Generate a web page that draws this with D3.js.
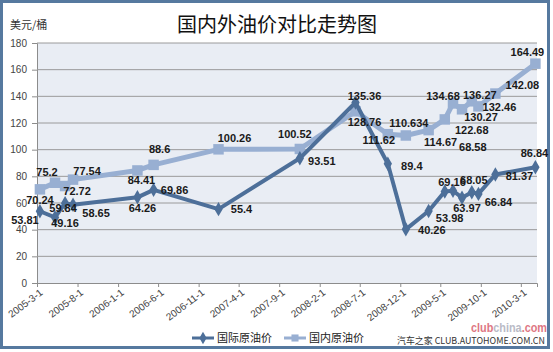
<!DOCTYPE html>
<html>
<head>
<meta charset="utf-8">
<script src="https://cdn.jsdelivr.net/npm/d3@7"></script>
<style>
body { margin: 0; background: #fff; }
text { font-family: "Liberation Sans", Arial, sans-serif; }
.cjk { font-family: "Noto Sans CJK SC", sans-serif; }
</style>
</head>
<body>
<script>
// data
var dates = ["2005-3-12", "2005-5-8", "2005-6-15", "2005-7-15", "2006-3-15", "2006-5-15",
    "2007-1-15", "2007-11-18", "2008-6-15", "2008-10-15", "2008-12-22", "2009-3-18",
    "2009-5-18", "2009-6-18", "2009-7-22", "2009-8-28", "2009-9-22", "2009-11-25", "2010-4-25"];
var intlPrice = [53.81, 49.16, 59.84, 58.65, 64.26, 69.86, 55.4, 93.51, 135.36, 89.4, 40.26,
    53.98, 68.58, 69.16, 63.97, 68.05, 66.84, 81.37, 86.84];
var domPrice = [70.24, 75.2, 72.72, 77.54, 84.41, 88.6, 100.26, 100.52, 128.76, 111.62, 110.634,
    114.67, 122.68, 134.68, 130.27, 136.27, 132.46, 142.08, 164.49];
var tickLabels = ["2005-3-1", "2005-8-1", "2006-1-1", "2006-6-1", "2006-11-1", "2007-4-1",
    "2007-9-1", "2008-2-1", "2008-7-1", "2008-12-1", "2009-5-1", "2009-10-1", "2010-3-1"];
var yTicks = [0, 20, 40, 60, 80, 100, 120, 140, 160, 180];
var seriesNames = ["国际原油价", "国内原油价"];

// label nudges (label centre relative to its point), as moved by hand in the original
var intlOff = [[-15, 9], [10, 6], [-2, 5], [23, 8], [5, 11], [21, 0], [23, 0], [22, 3], [9, -7],
    [24, 2], [26, 1], [21, 7], [28, -45], [-1, -9], [5, 10], [2, -12], [20, 8], [24, 1], [-1, -14]];
var domOff = [[0, 11], [-8, -11], [12, 5], [14, -9], [4, 10], [6, -16], [16, -11], [-5, -15],
    [9, 11], [-9, 6], [3, -12], [12, 12], [27, 11], [-10, -7], [19, 8], [8, -6], [21, 1], [27, -9], [-8, -12]];

var W = 553, H = 352;
var plot = {left: 37, right: 537, top: 43, bottom: 283};
var darkBlue = "#4d6f99", lightBlue = "#98afd2";

var parse = d3.timeParse("%Y-%m-%d");

var svg = d3.select("body").append("svg")
    .attr("width", W)
    .attr("height", H);

svg.append("rect")
    .attr("x", 1.5).attr("y", 1.5)
    .attr("width", 547).attr("height", 346)
    .attr("fill", "#fff")
    .attr("stroke", "#56799f")
    .attr("stroke-width", 3);

var x = d3.scaleTime()
    .domain([parse("2005-3-1"), parse("2010-5-1")])
    .range([plot.left, plot.right]);
var y = d3.scaleLinear()
    .domain([0, 180])
    .range([plot.bottom, plot.top]);

// plot area
svg.append("rect")
    .attr("x", plot.left).attr("y", plot.top)
    .attr("width", plot.right - plot.left)
    .attr("height", plot.bottom - plot.top)
    .attr("fill", "#e9edf4");

// y axis with gridlines
var yAxis = svg.append("g")
    .attr("transform", "translate(" + plot.left + ",0)")
    .call(d3.axisLeft(y).tickValues(yTicks).tickSize(5).tickPadding(5));
yAxis.select(".domain").attr("stroke", "#8c8c8c");
yAxis.selectAll(".tick line").attr("stroke", "#8c8c8c");
yAxis.selectAll("text").attr("fill", "#444").style("font-size", "10px");

svg.append("g").selectAll("line")
    .data(yTicks.slice(1))
    .enter().append("line")
    .attr("x1", plot.left).attr("x2", plot.right)
    .attr("y1", function (d) { return y(d); })
    .attr("y2", function (d) { return y(d); })
    .attr("stroke", "#9a9a9a")
    .attr("stroke-width", 1);

// x axis
var xAxis = svg.append("g")
    .attr("transform", "translate(0," + plot.bottom + ")")
    .call(d3.axisBottom(x)
        .tickValues(tickLabels.map(parse))
        .tickSize(4)
        .tickFormat(function (d, i) { return tickLabels[i]; }));
xAxis.select(".domain").attr("stroke", "#8c8c8c");
xAxis.selectAll(".tick line").attr("stroke", "#8c8c8c");
xAxis.selectAll("text")
    .attr("fill", "#444")
    .style("font-size", "10px")
    .attr("text-anchor", "end")
    .attr("dy", 0)
    .attr("y", 0)
    .attr("transform", "translate(6,11) rotate(-37)");

// lines
var lineFn = function (vals) {
    return d3.line()
        .x(function (d, i) { return x(parse(dates[i])); })
        .y(function (d) { return y(d); })(vals);
};

svg.append("path")
    .attr("d", lineFn(domPrice))
    .attr("fill", "none")
    .attr("stroke", lightBlue)
    .attr("stroke-width", 5)
    .attr("stroke-linejoin", "round");
svg.append("g").selectAll("path")
    .data(domPrice)
    .enter().append("path")
    .attr("d", d3.symbol(d3.symbolSquare, 110))
    .attr("transform", function (d, i) {
        return "translate(" + x(parse(dates[i])) + "," + y(d) + ")";
    })
    .attr("fill", lightBlue);

svg.append("path")
    .attr("d", lineFn(intlPrice))
    .attr("fill", "none")
    .attr("stroke", darkBlue)
    .attr("stroke-width", 4)
    .attr("stroke-linejoin", "round");
svg.append("g").selectAll("path")
    .data(intlPrice)
    .enter().append("path")
    .attr("d", d3.symbol(d3.symbolDiamond, 60))
    .attr("transform", function (d, i) {
        return "translate(" + x(parse(dates[i])) + "," + y(d) + ")";
    })
    .attr("fill", darkBlue);

// data labels
function labels(vals, off) {
    svg.append("g").selectAll("text")
        .data(vals)
        .enter().append("text")
        .attr("x", function (d, i) { return x(parse(dates[i])) + off[i][0]; })
        .attr("y", function (d, i) { return y(d) + off[i][1] + 4; })
        .attr("text-anchor", "middle")
        .style("font-size", "11px")
        .style("font-weight", "bold")
        .attr("fill", "#1a1a1a")
        .text(function (d) { return d; });
}
labels(intlPrice, intlOff);
labels(domPrice, domOff);

// title and unit
svg.append("text")
    .attr("class", "cjk")
    .attr("x", 277).attr("y", 32)
    .attr("text-anchor", "middle")
    .style("font-size", "20px")
    .attr("fill", "#111")
    .text("国内外油价对比走势图");
svg.append("text")
    .attr("class", "cjk")
    .attr("x", 10).attr("y", 29)
    .style("font-size", "11px")
    .attr("fill", "#333")
    .text("美元/桶");

// legend
var legend = svg.append("g");
var legendItems = [
    {x: 192, color: darkBlue, sym: d3.symbolDiamond, size: 45, w: 3},
    {x: 284, color: lightBlue, sym: d3.symbolSquare, size: 50, w: 3}
];
legendItems.forEach(function (it, i) {
    legend.append("line")
        .attr("x1", it.x).attr("x2", it.x + 22)
        .attr("y1", 338).attr("y2", 338)
        .attr("stroke", it.color).attr("stroke-width", it.w);
    legend.append("path")
        .attr("d", d3.symbol(it.sym, it.size))
        .attr("transform", "translate(" + (it.x + 11) + ",338)")
        .attr("fill", it.color);
    legend.append("text")
        .attr("class", "cjk")
        .attr("x", it.x + 25).attr("y", 342)
        .style("font-size", "11px")
        .attr("fill", "#222")
        .text(seriesNames[i]);
});

// watermarks
var wm = svg.append("text")
    .attr("x", 471).attr("y", 332)
    .attr("textLength", 76)
    .attr("lengthAdjust", "spacingAndGlyphs")
    .style("font-size", "13px")
    .style("font-weight", "bold")
    .attr("opacity", 0.85);
wm.append("tspan").attr("fill", "#d9606e").text("club");
wm.append("tspan").attr("fill", "#aeb0bd").text("china");
wm.append("tspan").attr("fill", "#d9606e").text(".com");

svg.append("text")
    .attr("x", 397).attr("y", 344)
    .attr("textLength", 148)
    .attr("lengthAdjust", "spacingAndGlyphs")
    .style("font-size", "9px")
    .style("font-family", "'Noto Sans CJK SC', 'DejaVu Sans Mono', monospace")
    .attr("fill", "#333")
    .text("汽车之家 CLUB.AUTOHOME.COM.CN");
</script>
</body>
</html>
